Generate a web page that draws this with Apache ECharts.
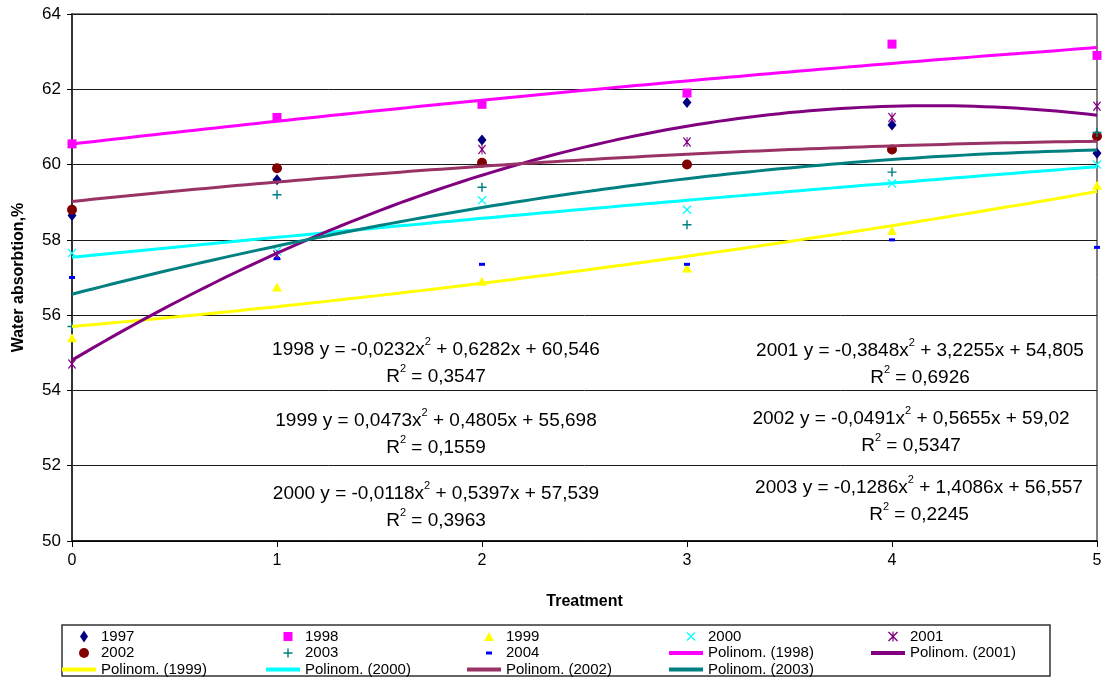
<!DOCTYPE html>
<html>
<head>
<meta charset="utf-8">
<script src="https://cdn.jsdelivr.net/npm/echarts@6/dist/echarts.min.js"></script>
<style>
  html, body { margin: 0; padding: 0; background: #ffffff; }
  #chart { width: 1105px; height: 677px; }
</style>
</head>
<body>
<div id="chart"></div>
<script>
// Treatment levels on the x axis
const treatments = [0, 1, 2, 3, 4, 5];

// Water absorption (%) per year, one value per treatment
const v1997 = [58.65, 59.6, 60.65, 61.65, 61.05, 60.3];
const v1998 = [60.55, 61.25, 61.6, 61.9, 63.2, 62.9];
const v1999 = [55.4, 56.75, 56.9, 57.25, 58.25, 59.45];
const v2000 = [57.65, 57.7, 59.05, 58.8, 59.5, 60.0];
const v2001 = [54.7, 57.6, 60.4, 60.6, 61.25, 61.55];
const v2002 = [58.8, 59.9, 60.05, 60.0, 60.4, 60.75];
const v2003 = [55.7, 59.2, 59.4, 58.4, 59.8, 60.85];
const v2004 = [57.0, 57.5, 57.35, 57.35, 58.0, 57.8];

// Second-order polynomial trend lines: y = a*x^2 + b*x + c
const fitYears = ['1998', '1999', '2000', '2001', '2002', '2003'];
const fitA = [-0.0232, 0.0473, -0.0118, -0.3848, -0.0491, -0.1286];
const fitB = [0.6282, 0.4805, 0.5397, 3.2255, 0.5655, 1.4086];
const fitC = [60.546, 55.698, 57.539, 54.805, 59.02, 56.557];
const fitR2 = [0.3547, 0.1559, 0.3963, 0.6926, 0.5347, 0.2245];

// Axis ticks
const yTicks = { min: 50, max: 64, step: 2 };
const xTicks = { min: 0, max: 5, step: 1 };

// ---------- styling ----------
const FONT = '"Liberation Sans", Arial, sans-serif';

const SYM_X = 'path://M0,1L1,0L5,4L9,0L10,1L6,5L10,9L9,10L5,6L1,10L0,9L4,5Z';
const SYM_PLUS = 'path://M4.2,0H5.8V4.2H10V5.8H5.8V10H4.2V5.8H0V4.2H4.2Z';
const SYM_STAR = 'path://M0,1L1,0L5,4L9,0L10,1L6,5L10,9L9,10L5,6L1,10L0,9L4,5Z M4.4,0H5.6V10H4.4Z';
const SYM_DIAMOND = 'path://M4,0L8,6L4,12L0,6Z';
const SYM_SQUARE = 'path://M0,0H10V10H0Z';
const SYM_TRIANGLE = 'path://M5,0L10,9H0Z';
const SYM_DASH = 'path://M0,0H6V3H0Z';

// marker look per year; legendW/legendH = size of the icon drawn in the legend
const pointStyles = {
  '1997': { data: v1997, color: '#000080', symbol: SYM_DIAMOND, size: [9, 11], legendW: 8, legendH: 12 },
  '1998': { data: v1998, color: '#FF00FF', symbol: SYM_SQUARE, size: [9, 9], legendW: 9, legendH: 9 },
  '1999': { data: v1999, color: '#FFFF00', symbol: SYM_TRIANGLE, size: [10, 9], legendW: 10, legendH: 9 },
  '2000': { data: v2000, color: '#00FFFF', symbol: SYM_X, size: [9, 9], legendW: 9, legendH: 9 },
  '2001': { data: v2001, color: '#800080', symbol: SYM_STAR, size: [8, 10], legendW: 10, legendH: 10 },
  '2002': { data: v2002, color: '#800000', symbol: 'circle', size: [10, 10], legendW: 10, legendH: 10 },
  '2003': { data: v2003, color: '#008080', symbol: SYM_PLUS, size: [9, 9], legendW: 9, legendH: 9 },
  '2004': { data: v2004, color: '#0000FF', symbol: SYM_DASH, size: [6, 3], legendW: 6, legendH: 3 }
};

const trendColors = {
  '1998': '#FF00FF', '1999': '#FFFF00', '2000': '#00FFFF',
  '2001': '#800080', '2002': '#993366', '2003': '#008080'
};

// Legend slots: [name, text x, row centre y]
const legendSlots = [
  ['1997', 101, 637], ['1998', 305, 637], ['1999', 506, 637], ['2000', 708, 637], ['2001', 910, 637],
  ['2002', 101, 653.5], ['2003', 305, 653.5], ['2004', 506, 653.5], ['Polinom. (1998)', 708, 653.5], ['Polinom. (2001)', 910, 653.5],
  ['Polinom. (1999)', 101, 670], ['Polinom. (2000)', 305, 670], ['Polinom. (2002)', 506, 670], ['Polinom. (2003)', 708, 670]
];

// Equation label centres, in the order of fitYears
const eqCenters = [[436, 363], [436, 434], [436, 507], [920, 364], [911, 432], [919, 501]];

// ---------- series ----------
const series = [];

Object.keys(pointStyles).forEach(function (year) {
  const p = pointStyles[year];
  series.push({
    name: year,
    type: 'scatter',
    data: treatments.map(function (x, i) { return [x, p.data[i]]; }),
    symbol: p.symbol,
    symbolSize: p.size,
    itemStyle: { color: p.color, opacity: 1 },
    z: 2,
    silent: true
  });
});

// sample the fitted polynomial along the treatment range
const samples = [];
for (let k = 0; k <= 100; k++) samples.push(xTicks.min + (xTicks.max - xTicks.min) * k / 100);

fitYears.forEach(function (year, j) {
  series.push({
    name: 'Polinom. (' + year + ')',
    type: 'line',
    data: samples.map(function (x) { return [x, fitA[j] * x * x + fitB[j] * x + fitC[j]]; }),
    symbol: 'none',
    showSymbol: false,
    smooth: false,
    lineStyle: { color: trendColors[year], width: 3 },
    itemStyle: { color: trendColors[year] },
    z: 3,
    silent: true
  });
});

// ---------- legends ----------
const legends = legendSlots.map(function (slot) {
  const name = slot[0];
  const isLine = name.indexOf('Polinom') === 0;
  const w = isLine ? 34 : 24;
  const h = isLine ? 4 : pointStyles[name].legendH;
  // the legend box is placed by its visible extent, so a narrow centred icon shifts it
  const iconW = isLine ? w : pointStyles[name].legendW;
  return {
    data: [isLine ? { name: name, icon: 'rect' } : name],
    left: slot[1] - 5 - (w + iconW) / 2,
    top: slot[2] - 8,
    itemWidth: w,
    itemHeight: h,
    padding: 0,
    selectedMode: false,
    symbolKeepAspect: true,
    textStyle: { fontFamily: FONT, fontSize: 15, color: '#000' }
  };
});

// ---------- equation labels ----------
function fmt(v) { return String(v).replace('.', ','); }
function signed(v) { return (v < 0 ? '- ' : '+ ') + fmt(Math.abs(v)); }

const graphics = [
  {
    type: 'rect',
    shape: { x: 62, y: 625, width: 988, height: 51 },
    style: { fill: 'none', stroke: '#333', lineWidth: 1.5 },
    z: 1
  }
];

fitYears.forEach(function (year, j) {
  const a = fitA[j];
  const line1 = '{t|' + year + ' y = ' + (a < 0 ? '-' : '') + fmt(Math.abs(a)) + 'x}{s|2}{t| ' +
    signed(fitB[j]) + 'x ' + signed(fitC[j]) + '}';
  const line2 = '{t|R}{s|2}{t| = ' + fmt(fitR2[j]) + '}';
  graphics.push({
    type: 'text',
    x: eqCenters[j][0],
    y: eqCenters[j][1],
    z: 10,
    style: {
      text: line1 + '\n' + line2,
      align: 'center',
      verticalAlign: 'middle',
      fill: '#000',
      fontFamily: FONT,
      rich: {
        t: { fontSize: 19, lineHeight: 27, fontFamily: FONT, fill: '#000', color: '#000' },
        s: { fontSize: 11, lineHeight: 16, verticalAlign: 'top', fontFamily: FONT, fill: '#000', color: '#000' }
      }
    }
  });
});

// ---------- chart ----------
const chart = echarts.init(document.getElementById('chart'), null, { renderer: 'canvas' });
chart.setOption({
  backgroundColor: '#ffffff',
  animation: false,
  textStyle: { fontFamily: FONT },
  grid: {
    left: 72, right: 8, top: 14, bottom: 136,
    show: true, borderColor: '#000', borderWidth: 1, backgroundColor: 'transparent'
  },
  xAxis: {
    type: 'value',
    min: xTicks.min, max: xTicks.max, interval: xTicks.step,
    name: 'Treatment',
    nameLocation: 'middle',
    nameGap: 53,
    nameTextStyle: { fontFamily: FONT, fontSize: 16, fontWeight: 'bold', color: '#000' },
    axisLine: { show: true, lineStyle: { color: '#000', width: 1.5 } },
    axisTick: { show: true, length: 6, lineStyle: { color: '#000' } },
    axisLabel: { fontFamily: FONT, fontSize: 16, color: '#000', margin: 12 },
    splitLine: { show: false }
  },
  yAxis: {
    type: 'value',
    min: yTicks.min, max: yTicks.max, interval: yTicks.step,
    name: 'Water absorbtion,%',
    nameLocation: 'middle',
    nameGap: 45,
    nameRotate: 90,
    nameTextStyle: { fontFamily: FONT, fontSize: 16, fontWeight: 'bold', color: '#000' },
    axisLine: { show: true, lineStyle: { color: '#333', width: 2 } },
    axisTick: { show: true, length: 5, lineStyle: { color: '#000' } },
    axisLabel: { fontFamily: FONT, fontSize: 17, color: '#000', margin: 11 },
    splitLine: { show: true, lineStyle: { color: '#1a1a1a', width: 1 } }
  },
  legend: legends,
  series: series,
  graphic: graphics
});
</script>
</body>
</html>
